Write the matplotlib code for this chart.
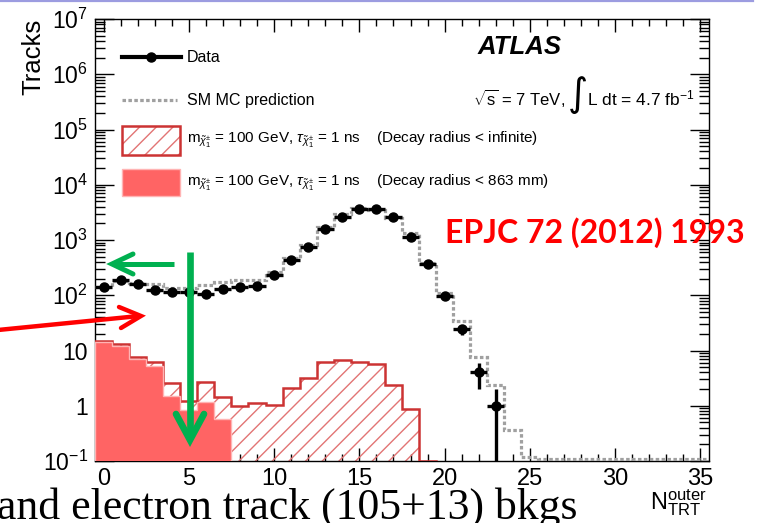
import numpy as np
import matplotlib
matplotlib.use("Agg")
import matplotlib.pyplot as plt
from matplotlib.lines import Line2D
from matplotlib.patches import Rectangle
from matplotlib.ticker import LogLocator, MultipleLocator, NullFormatter, FuncFormatter

plt.rcParams["font.family"] = ["Liberation Sans", "DejaVu Sans"]
plt.rcParams["mathtext.fontset"] = "custom"
plt.rcParams["mathtext.rm"] = "Liberation Sans"
plt.rcParams["mathtext.it"] = "Liberation Sans:italic"
plt.rcParams["mathtext.bf"] = "Liberation Sans:bold"
plt.rcParams["hatch.linewidth"] = 1.0

# ---- data: N_TRT^outer bins 0..35 (unit width) ----
bin_centres = np.arange(0, 36)
data_counts = [139, 189, 160, 124, 116, 113, 105, 128, 143, 147, 232, 434, 757,
               1560, 2630, 3700, 3590, 2580, 1120, 365, 98, 24, 4, 1,
               0, 0, 0, 0, 0, 0, 0, 0, 0, 0, 0, 0]
sm_mc = [140, 180, 165, 160, 135, 135, 155, 175, 185, 185, 260, 470, 820,
         1700, 2900, 3850, 3550, 2450, 1320, 390, 108, 34, 7.7, 2.4,
         0.36, 0.12, 0.11, 0.11, 0.11, 0.11, 0.11, 0.11, 0.11, 0.11, 0.11, 0.11]
signal_all = [15, 13.1, 7.5, 6.2, 2.55, 1.23, 2.7, 1.42, 0.99, 1.13, 1.02, 2.07,
              3.14, 6.3, 6.7, 6.2, 5.7, 2.4, 0.89, 0]
signal_863 = [14.5, 12, 6.9, 5.3, 1.5, 0.84, 1.18, 0.57]

x_ticks = [0, 5, 10, 15, 20, 25, 30, 35]

W, H = 764, 523
fig = plt.figure(figsize=(W / 100, H / 100), dpi=100)


def fx(px):
    return px / W


def fy(py):
    return 1 - py / H


ax = fig.add_axes([fx(95), fy(461), fx(709) - fx(95), fy(19) - fy(461)])
ax.set_yscale("log", nonpositive="clip")
ymin, ymax = 0.1, 1e7
ax.set_xlim(-0.5, 35.5)
ax.set_ylim(ymin, ymax)

edges = np.arange(-0.5, 36.5, 1.0)
hatch_col = "#e27474"
outline_col = "#cc3333"
fill_col = "#ff6464"
fill_edge = "#ffb4b4"
mc_col = "#a0a0a0"
mc_style = (0, (1.1, 0.75))

# signal, decay radius < infinite : hatched
sa = np.clip(np.array(signal_all, float), ymin, None)
e_sa = edges[: len(sa) + 1]
ax.stairs(sa, e_sa, baseline=1e-3, fill=True, facecolor="none",
          edgecolor=hatch_col, hatch="//", linewidth=0, zorder=2)
ax.stairs(sa, e_sa, baseline=1e-3, fill=False, color=outline_col,
          linewidth=1.8, zorder=3)

# signal, decay radius < 863 mm : filled
s8 = np.array(signal_863, float)
e_s8 = edges[: len(s8) + 1]
ax.stairs(s8, e_s8, baseline=1e-3, fill=True, facecolor=fill_col,
          edgecolor=fill_edge, linewidth=1.0, zorder=4)

# SM MC prediction
ax.stairs(np.array(sm_mc, float), edges, baseline=None, fill=False,
          color=mc_col, linewidth=2.3, linestyle=mc_style, zorder=5)

# data with Poisson errors
dc = np.array(data_counts, float)
m = dc > 0
ax.errorbar(bin_centres[m], dc[m], xerr=0.5, yerr=np.sqrt(dc[m]),
            fmt="o", color="black", ms=6.5, elinewidth=2.4, capsize=0, zorder=6)


def pow10_label(v, pos):
    e = int(round(np.log10(v)))
    if e == 0:
        return "1"
    if e == 1:
        return "10"
    return r"$\mathregular{10^{%d}}$" % e


# axes styling (ROOT-like)
ax.set_xticks(x_ticks)
ax.set_xticklabels([str(t) for t in x_ticks])
ax.xaxis.set_minor_locator(MultipleLocator(1))
ax.yaxis.set_major_locator(LogLocator(base=10, numticks=20))
ax.yaxis.set_major_formatter(FuncFormatter(pow10_label))
ax.yaxis.set_minor_locator(LogLocator(base=10, subs=np.arange(2, 10), numticks=100))
ax.yaxis.set_minor_formatter(NullFormatter())
ax.tick_params(which="both", direction="in", top=True, right=True,
               colors="black", width=1.0)
ax.tick_params(axis="x", which="major", length=9.5, labelsize=17, pad=5)
ax.tick_params(axis="x", which="minor", length=5)
ax.tick_params(axis="y", which="major", length=14, labelsize=16.5, pad=5)
ax.tick_params(axis="y", which="minor", length=7)
for s in ax.spines.values():
    s.set_linewidth(1.0)

fig.text(fx(33), fy(57), "Tracks", rotation=90, ha="center", va="center",
         fontsize=18.5)
fig.text(fx(707), fy(503), r"N$_{\mathregular{TRT}}^{\mathregular{outer}}$",
         ha="right", va="center", fontsize=17)

# legend
lt = fig.transFigure
fig.add_artist(Line2D([fx(122), fx(181)], [fy(57), fy(57)], color="black",
                      lw=3, transform=lt))
fig.add_artist(Line2D([fx(151)], [fy(57)], marker="o", ms=6.5, color="black",
                      transform=lt))
fig.add_artist(Line2D([fx(122), fx(177)], [fy(100), fy(100)], color=mc_col,
                      lw=2.3, linestyle=mc_style, transform=lt))
fig.add_artist(Rectangle((fx(122), fy(155)), fx(180) - fx(122), fy(126) - fy(155),
                         facecolor="none", edgecolor=hatch_col, hatch="//",
                         linewidth=0, transform=lt))
fig.add_artist(Rectangle((fx(122), fy(155)), fx(180) - fx(122), fy(126) - fy(155),
                         facecolor="none", edgecolor=outline_col, linewidth=1.8,
                         transform=lt))
fig.add_artist(Rectangle((fx(122), fy(196)), fx(180) - fx(122), fy(169) - fy(196),
                         facecolor=fill_col, edgecolor=fill_edge, linewidth=1.0,
                         transform=lt))
leg_fs = 11.5
fig.text(fx(187), fy(57), "Data", va="center", fontsize=leg_fs)
fig.text(fx(187), fy(100), "SM MC prediction", va="center", fontsize=leg_fs)
chi = r"_{\tilde{\chi}^{\pm}_{1}}"
fig.text(fx(187), fy(140),
         r"m$" + chi + r"$ = 100 GeV, $\tau" + chi + r"$ = 1 ns    (Decay radius < infinite)",
         va="center", fontsize=11)
fig.text(fx(187), fy(183),
         r"m$" + chi + r"$ = 100 GeV, $\tau" + chi + r"$ = 1 ns    (Decay radius < 863 mm)",
         va="center", fontsize=11)

fig.text(fx(562), fy(47), "ATLAS", ha="right", va="center", fontsize=18.5,
         weight="bold", style="italic")
fig.text(fx(473), fy(98), r"$\sqrt{\mathregular{s}}$ = 7 TeV,", ha="left",
         va="center", fontsize=12)
fig.text(fx(578), fy(95), "\u222b", ha="center", va="center", fontsize=28,
         family=["DejaVu Sans"])
fig.text(fx(695), fy(98), r"L dt = 4.7 fb$^{-1}$", ha="right", va="center",
         fontsize=12.5)

# overlay annotations
fig.text(fx(445), fy(233), "EPJC 72 (2012) 1993", ha="left", va="center",
         fontsize=23, weight="bold", color="#ff0000", family="Lato")
fig.text(fx(-3), fy(519), "and electron track (105+13) bkgs", ha="left",
         va="baseline", fontsize=31.5, family="Liberation Serif")


def arrow(pts_shaft, pts_head, color, lw):
    fig.add_artist(Line2D([fx(p[0]) for p in pts_shaft], [fy(p[1]) for p in pts_shaft],
                          color=color, lw=lw, transform=lt, solid_capstyle="butt",
                          zorder=10))
    fig.add_artist(Line2D([fx(p[0]) for p in pts_head], [fy(p[1]) for p in pts_head],
                          color=color, lw=lw, transform=lt, solid_capstyle="round",
                          solid_joinstyle="miter", zorder=10))


green = "#00b050"
arrow([(174, 264), (113, 264)], [(133, 254), (112, 264), (133, 274)], green, 3.6)
arrow([(190, 252), (190, 438)], [(176, 414), (190, 440), (204, 414)], green, 4.8)
arrow([(-2, 330), (139, 316)], [(119, 307), (141, 316), (121, 328)], "#ff0000", 3.2)

fig.add_artist(Line2D([0, fx(753)], [fy(1), fy(1)], color="#9c9ce0", lw=1.6,
                      transform=lt))

fig.savefig("out.png", dpi=100)
